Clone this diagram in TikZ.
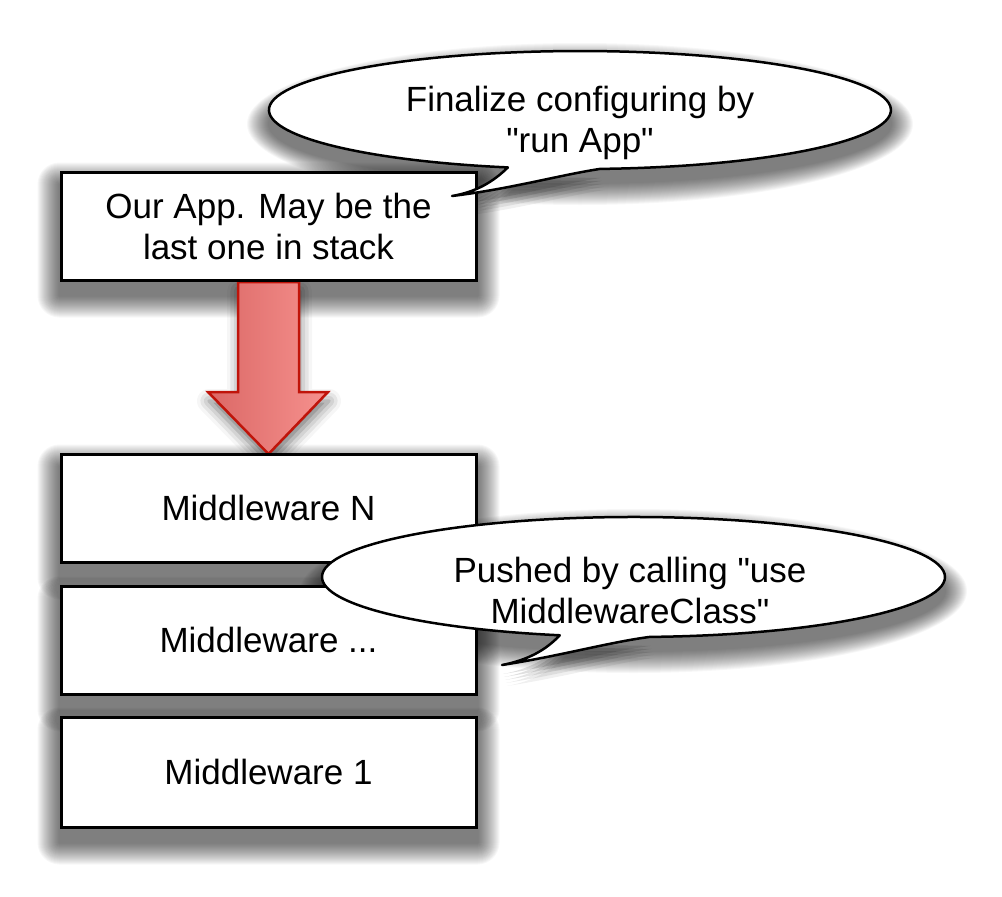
\documentclass[tikz,border=0pt]{standalone}
\usepackage{fontspec}
\setmainfont{Liberation Sans}[Ligatures=TeXOff]
\usetikzlibrary{shadows.blur,backgrounds}
\definecolor{arrowedge}{RGB}{192,20,10}
\definecolor{arrowdark}{RGB}{219,104,102}
\definecolor{arrowlight}{RGB}{246,145,142}

% soft drop shadow under a rectangular node: stacked, growing translucent layers
\newcommand\boxshadow[1]{%
  \foreach \r in {1,2,...,22}{%
    \fill[black, fill opacity=0.03, rounded corners=\r pt]
      ([shift={(-\r pt,-14pt-\r pt)}]#1.south west)
      rectangle ([shift={(\r pt,-14pt+\r pt)}]#1.north east);}}
% soft drop shadow under an oval: centre x, centre y, x radius, y radius
\newcommand\ovalshadow[4]{%
  \foreach \r in {1,2,...,22}{%
    \fill[black, fill opacity=0.03]
      (#1,#2-14) ellipse [x radius=#3+\r, y radius=#4+\r];}}

\begin{document}
\begin{tikzpicture}[x=1pt,y=1pt,
  stackbox/.style={draw=black, line width=3pt, fill=white,
      minimum width=415pt, minimum height=108pt, inner sep=0pt,
      align=center},
  bubble/.style={draw=black, line width=2.5pt, fill=white, line join=round},
  bubbletext/.style={align=center, inner sep=0pt},
  font=\fontsize{35}{41}\selectfont]

% canvas
\useasboundingbox (0,0) rectangle (1002,-897);

% block arrow from the app down to the top of the stack
\coordinate (atop) at (268.5,-282);
\coordinate (atip) at (268.5,-454);
\path[draw=arrowedge, line width=2.5pt, line join=miter,
      left color=arrowdark, right color=arrowlight,
      blur shadow={shadow xshift=1pt, shadow yshift=-9pt,
      shadow blur radius=12pt, shadow opacity=55}]
  ([xshift=-30.5pt]atop) -- ([xshift=30.5pt]atop)
  -- ([xshift=30.5pt]atop |- 0,-392) -- (328,-392)
  -- (atip) -- (208,-392)
  -- ([xshift=-30.5pt]atop |- 0,-392) -- cycle;

% the application and the middleware stack
\node[stackbox] (app) at (268.5,-226) {Our App. May be the\\last one in stack};
\node[stackbox] (mwn) at (268.5,-508) {Middleware N};
\node[stackbox] (mwd) at (268.5,-640) {Middleware ...};
\node[stackbox, minimum height=110pt] (mw1) at (268.5,-772) {Middleware 1};

% callout: finalize configuration
\path[bubble] (600,-168.9)
  arc[start angle=-86.3, end angle=256.6, x radius=311, y radius=59]
  .. controls (493,-182) and (476,-192) .. (452,-196)
  .. controls (510,-189) and (560,-175) .. cycle;
\node[bubbletext] (cfg) at (580,-123) {Finalize configuring by\\"run App"};

% callout: pushing middleware
\path[bubble] (649.8,-636.9)
  arc[start angle=-87, end angle=256.3, x radius=311.5, y radius=60]
  .. controls (546,-650) and (528,-660) .. (502,-665)
  .. controls (560,-656) and (610,-642) .. cycle;
\node[bubbletext] (use) at (630,-590) {Pushed by calling "use\\MiddlewareClass"};

% shadows, kept below every shape
\begin{pgfonlayer}{background}
  \boxshadow{app}
  \boxshadow{mwn}
  \boxshadow{mwd}
  \boxshadow{mw1}
  \ovalshadow{580}{-110}{311}{59}
  \ovalshadow{633.5}{-577}{311.5}{60}
  \foreach \dx/\dy/\op in {1/-9/0.12, 2/-12/0.12, 3/-15/0.1, 4/-18/0.08, 5/-21/0.06}{%
    \fill[black, fill opacity=\op, shift={(\dx,\dy)}]
      (508,-168) .. controls (493,-182) and (476,-192) .. (452,-196)
      .. controls (510,-189) and (560,-175) .. (600,-168.9) -- cycle;
    \fill[black, fill opacity=\op, shift={(\dx,\dy)}]
      (559.7,-635.3) .. controls (546,-650) and (528,-660) .. (502,-665)
      .. controls (560,-656) and (610,-642) .. (649.8,-636.9) -- cycle;}
\end{pgfonlayer}
\end{tikzpicture}
\end{document}
